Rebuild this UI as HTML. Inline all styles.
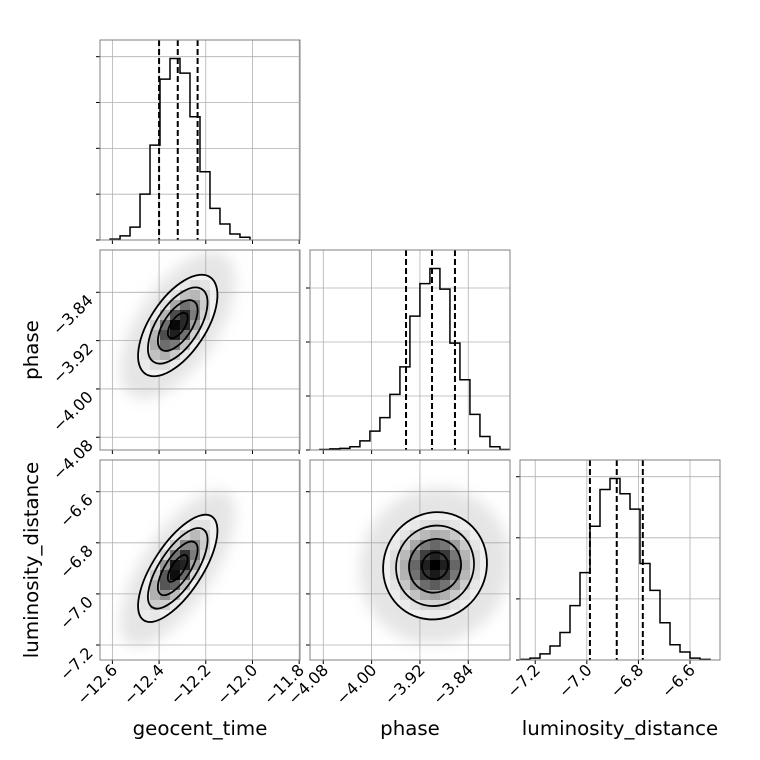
<!DOCTYPE html>
<html><head><meta charset="utf-8"><style>
html,body{margin:0;padding:0;background:#fff}
svg{display:block;font-family:"DejaVu Sans","Liberation Sans",sans-serif}
</style></head><body>
<svg id="c" width="760" height="760" viewBox="0 0 760 760">
<defs><filter id="blur" x="-50%" y="-50%" width="200%" height="200%"><feGaussianBlur stdDeviation="7"/></filter></defs>
</svg>
<script>
// ---- data ----
const geoTicks=[-12.6,-12.4,-12.2,-12.0,-11.8];
const phaseTicks=[-4.08,-4.00,-3.92,-3.84];
const lumTicks=[-7.2,-7.0,-6.8,-6.6];
const geoHistStart=-12.610, geoHistWidth=0.0428;
const geoCounts=[2,9,28,100,207,351,396,364,269,149,69,35,13,6];
const phaseHistStart=-4.0856, phaseHistWidth=0.01656;
const phaseCounts=[1,2,3,6,17,35,60,103,154,248,308,336,298,198,130,66,25,6,1];
const lumHistStart=-7.259, lumHistWidth=0.03876;
const lumCounts=[1,3,10,23,45,89,143,219,279,297,272,247,158,114,61,25,13,3,1];
const geoQuantiles=[-12.40,-12.32,-12.235];
const phaseQuantiles=[-3.943,-3.900,-3.862];
const lumQuantiles=[-6.988,-6.884,-6.783];
const histTicks1=[0,100,200,300,400];
const histTicks2=[0,100,200,300];
const histTicks3=[0,100,200,300];
// 2D: [meanX, meanY, sdX, sdY, rho]
const geoPhase=[-12.32,-3.895,0.085,0.042,0.6];
const geoLum=[-12.32,-6.90,0.085,0.105,0.7];
const phaseLum=[-3.895,-6.89,0.043,0.105,0.05];
const contourRadii=[0.5,1,1.5,2];

// ---- scales ----
const xGeo=v=>100+(v+12.653)*233.5;
const xPhase=v=>310+(v+4.102)*604;
const xLum=v=>520+(v+7.259)*258;
const yPhase=v=>292.3+(-3.84-v)*604;
const yLum=v=>491.7+(-6.6-v)*255.5;
const yH1=c=>240-c*0.4583, yH2=c=>450-c*0.54, yH3=c=>660-c*0.611;

const svg=document.getElementById('c');
const NS='http://www.w3.org/2000/svg';
function mk(tag,attrs,parent){const e=document.createElementNS(NS,tag);for(const k in attrs)e.setAttribute(k,attrs[k]);(parent||svg).appendChild(e);return e;}

function panel(name,x0,y0,xs,xt,ys,yt,hTicks,hScale){
  const g=mk('g',{});
  
  
  const cid='clip-'+name;
  const cp=mk('clipPath',{id:cid},g);mk('rect',{x:x0,y:y0,width:200,height:200},cp);
  const grid=mk('g',{stroke:'#b0b0b0','stroke-width':0.8},g);
  
  
  xt.forEach(t=>{const x=xs(t);if(x>=x0&&x<=x0+200){mk('line',{x1:x,x2:x,y1:y0,y2:y0+200},grid);mk('line',{x1:x,x2:x,y1:y0+200,y2:y0+204,stroke:'#000'},g);}});
  const yticks=yt||hTicks, ysc=ys||hScale;
  yticks.forEach(t=>{const y=ysc(t);if(y>=y0-0.5&&y<=y0+200.5){mk('line',{x1:x0,x2:x0+200,y1:y,y2:y},grid);mk('line',{x1:x0-4,x2:x0,y1:y,y2:y,stroke:'#000'},g);}});
  const body=mk('g',{'clip-path':'url(#'+cid+')'},g);
  return {g,body};
}
function frame(g,x0,y0){const f=mk('rect',{x:x0,y:y0,width:200,height:200,fill:'none',stroke:'#808080','stroke-width':1},g);}

function hist(name,x0,y0,xs,xt,ys,ticks,start,w,counts,q){
  const p=panel(name,x0,y0,xs,xt,null,ticks,ticks,ys);
  let d='M'+xs(start)+','+ys(0);
  counts.forEach((c,i)=>{d+=' L'+xs(start+i*w)+','+ys(c)+' L'+xs(start+(i+1)*w)+','+ys(c);});
  d+=' L'+xs(start+counts.length*w)+','+ys(0);
  const h=mk('path',{d:d,fill:'none',stroke:'#000','stroke-width':1.5},p.body);
  
  
  q.forEach(v=>{const l=mk('line',{x1:xs(v),x2:xs(v),y1:y0,y2:y0+200,stroke:'#000','stroke-width':2,'stroke-dasharray':'6,3'},p.body);
    
    });
  frame(p.g,x0,y0);
}
function hist2d(name,x0,y0,xs,xt,ys,yt,par){
  const p=panel(name,x0,y0,xs,xt,ys,yt);
  const [mx,my,sx,sy,r]=par;
  const cx=xs(mx),cy=ys(my);
  const sxp=Math.abs(xs(mx+sx)-cx), syp=Math.abs(ys(my+sy)-cy);
  const a=sxp*sxp,b=-r*sxp*syp,c=syp*syp;
  const tr=(a+c)/2,dt=Math.sqrt(((a-c)/2)**2+b*b);
  const l1=tr+dt,l2=tr-dt;
  const ang=Math.atan2(l1-a,b)*180/Math.PI;
  const ell=(rr,attrs,parent)=>mk('ellipse',Object.assign({cx:cx,cy:cy,rx:rr*Math.sqrt(l1),ry:rr*Math.sqrt(l2),transform:'rotate('+ang+' '+cx+' '+cy+')'},attrs),parent);
  const cloud=ell(2.9,{fill:'#999','fill-opacity':0.25,filter:'url(#blur)'},p.body);
  
  
  const det=a*c-b*b;
  const ccid='cc-'+name;const cp=mk('clipPath',{id:ccid},p.g);ell(2,{},cp);
  mk('rect',{x:x0,y:y0,width:200,height:200,fill:'#f6f6f6','clip-path':'url(#'+ccid+')'},p.body);
  const cells=mk('g',{'clip-path':'url(#'+ccid+')'},p.body);
  
  
  for(let i=0;i<20;i++)for(let j=0;j<20;j++){
    const px=x0+i*10+5-cx,py=y0+j*10+5-cy;
    const m2=(c*px*px-2*b*px*py+a*py*py)/det;
    if(m2>6)continue;
    const d=Math.exp(-0.5*m2);const gv=Math.round(248-248*Math.pow(d,1.8));
    mk('rect',{x:x0+i*10,y:y0+j*10,width:10,height:10,fill:`rgb(${gv},${gv},${gv})`},cells);
  }
  contourRadii.forEach(rr=>{const e=ell(rr,{fill:'none',stroke:'#000','stroke-width':1.8},p.body);
    
    });
  frame(p.g,x0,y0);
}

hist('hist-geocent-time',100,40,xGeo,geoTicks,yH1,histTicks1,geoHistStart,geoHistWidth,geoCounts,geoQuantiles);
hist2d('scatter-geocent-phase',100,250,xGeo,geoTicks,yPhase,phaseTicks,geoPhase);
hist('hist-phase',310,250,xPhase,phaseTicks,yH2,histTicks2,phaseHistStart,phaseHistWidth,phaseCounts,phaseQuantiles);
hist2d('scatter-geocent-luminosity',100,460,xGeo,geoTicks,yLum,lumTicks,geoLum);
hist2d('scatter-phase-luminosity',310,460,xPhase,phaseTicks,yLum,lumTicks,phaseLum);
hist('hist-luminosity-distance',520,460,xLum,lumTicks,yH3,histTicks3,lumHistStart,lumHistWidth,lumCounts,lumQuantiles);

// tick labels
function lab(txt,x,y,name){const t=mk('text',{x:x,y:y,'font-size':16,'text-anchor':'end',transform:`rotate(-45 ${x} ${y})`,fill:'#000'});t.textContent=txt;
  
  }
const f2=v=>'\u2212'+Math.abs(v).toFixed(2), f1=v=>'\u2212'+Math.abs(v).toFixed(1);
geoTicks.forEach(v=>lab(f1(v),xGeo(v)+6,671,'x-tick-label'));
phaseTicks.forEach(v=>lab(f2(v),xPhase(v)+6,671,'x-tick-label'));
lumTicks.forEach(v=>lab(f1(v),xLum(v)+6,671,'x-tick-label'));
phaseTicks.forEach(v=>lab(f2(v),94,yPhase(v)+9,'y-tick-label'));
lumTicks.forEach(v=>lab(f1(v),94,yLum(v)+9,'y-tick-label'));
function title(txt,x,y,rot,name){const t=mk('text',{x:x,y:y,'font-size':19.8,'text-anchor':'middle',fill:'#000',transform:rot?`rotate(-90 ${x} ${y})`:''});t.textContent=txt;
  
  }
title('geocent_time',200,735,false,'x-axis-title-geocent-time');
title('phase',410,735,false,'x-axis-title-phase');
title('luminosity_distance',620,735,false,'x-axis-title-luminosity-distance');
title('phase',38,350,true,'y-axis-title-phase');
title('luminosity_distance',38,560,true,'y-axis-title-luminosity-distance');
</script>
</body></html>
